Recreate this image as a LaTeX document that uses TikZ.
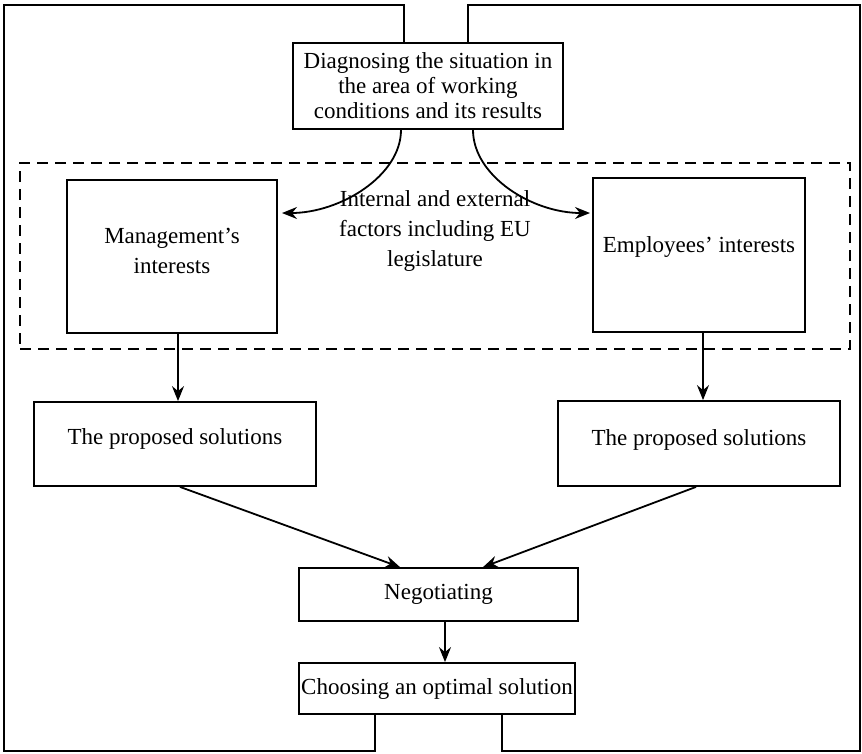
\documentclass[tikz,border=0pt]{standalone}
\usepackage{fontspec}
\setmainfont{Liberation Serif}
\usetikzlibrary{arrows.meta,calc}
\begin{document}
\begin{tikzpicture}[x=1pt,y=-1pt,
  box/.style={draw, line width=1.8pt, inner sep=0pt, align=center,
              font=\fontsize{23}{25}\selectfont},
  lbl/.style={inner sep=0pt, align=center, font=\fontsize{23}{30}\selectfont},
  arr/.style={line width=1.8pt, -{Stealth[length=15pt,width=12pt,inset=5pt]}},
  frameline/.style={line width=2.2pt},
  zone/.style={draw, line width=1.8pt, dash pattern=on 11pt off 7pt, inner sep=0pt}]
\useasboundingbox (0,0) rectangle (862,753);

% dashed zone
\node[zone, minimum width=830pt, minimum height=186pt] (zone) at (435,256) {};

% boxes
\node[box, minimum width=270pt, minimum height=86pt] (diag) at (428,86)
  {Diagnosing the situation in\\the area of working\\conditions and its results};
\node[box, minimum width=210pt, minimum height=153pt,
  label={[lbl, yshift=6pt]center:Management’s\\interests}] (mgmt) at (172,256.5) {};
\node[box, minimum width=212pt, minimum height=154pt,
  label={[lbl, yshift=8pt]center:Employees’ interests}] (emp) at (699,255) {};
\node[lbl] (factors) at (435,231) {Internal and external\\factors including EU\\legislature};
\node[box, minimum width=282pt, minimum height=84pt,
  label={[lbl, yshift=5pt]center:The proposed solutions}] (lprop) at (175,444) {};
\node[box, minimum width=282pt, minimum height=85pt,
  label={[lbl, yshift=4pt]center:The proposed solutions}] (rprop) at (699,443.5) {};
\node[box, minimum width=279pt, minimum height=53pt] (neg) at (438.5,594.5) {Negotiating};
\node[box, minimum width=276pt, minimum height=51pt] (choose) at (437,688.5) {Choosing an optimal solution};

% free ends of the curved arrows
\coordinate (lt) at (282,213);
\coordinate (rt) at (590,213);

% curved arrows
\draw[arr] ([xshift=-27pt]diag.south) .. controls +(0,46) and +(58,0) .. (lt);
\draw[arr] ([xshift=45pt]diag.south) .. controls +(0,46) and +(-58,0) .. (rt);

% straight arrows
\draw[arr] ([xshift=6pt]mgmt.south) -- ([xshift=3pt]lprop.north);
\draw[arr] ([xshift=4pt]emp.south) -- ([xshift=4pt]rprop.north);
\draw[arr] ([xshift=5pt]lprop.south) -- ([xshift=-38.5pt]neg.north);
\draw[arr] ([xshift=-3pt]rprop.south) -- ([xshift=44.5pt]neg.north);
\draw[arr] ([xshift=6.5pt]neg.south) -- ([xshift=8pt]choose.north);

% outer frame
\draw[frameline] ([xshift=-24pt]diag.north) |- (4,5) -- (4,751) -| ([xshift=-62pt]choose.south);
\draw[frameline] ([xshift=40pt]diag.north) |- (860,5) -- (860,751) -| ([xshift=65pt]choose.south);
\end{tikzpicture}
\end{document}
